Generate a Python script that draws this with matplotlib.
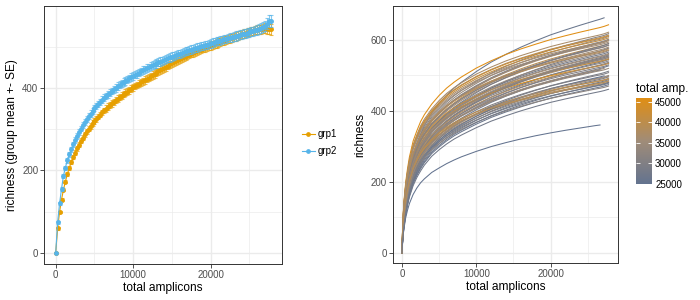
import matplotlib
matplotlib.use("Agg")
import matplotlib.pyplot as plt
from matplotlib.colors import LinearSegmentedColormap, Normalize
from matplotlib.colorbar import ColorbarBase
from matplotlib.lines import Line2D

plt.rcParams['font.family'] = ['Liberation Sans', 'DejaVu Sans']

# -----------------------------
# LEFT PANEL DATA: group means (every 250 amplicons)
# -----------------------------
depth = list(range(0, 28000, 250))

grp1_mean = [0, 59, 99, 129, 153, 173, 191, 206, 220, 232,
             243, 254, 263, 272, 280, 288, 295, 302, 308, 315,
             321, 326, 331, 336, 341, 346, 350, 355, 359, 363,
             367, 371, 375, 379, 382, 386, 389, 392, 395, 399,
             402, 405, 408, 411, 414, 417, 420, 423, 426, 429,
             432, 435, 438, 441, 444, 447, 449, 452, 455, 458,
             461, 464, 466, 469, 471, 474, 476, 478, 480, 482,
             484, 486, 488, 490, 492, 494, 496, 498, 500, 502,
             504, 506, 507, 509, 511, 513, 514, 516, 518, 520,
             521, 523, 524, 526, 528, 530, 531, 533, 534, 536,
             537, 539, 540, 541, 542, 543, 544, 545, 546, 545,
             544, 543]
grp1_se = ([0] + [3] * 2 + [4] * 3 + [5] * 4 + [6] * 6 + [7] * 10 + [8] * 20
           + [9] * 34 + [10] * 24 + [11] * 4 + [12] * 2 + [13] * 2)

grp2_mean = [0, 74, 120, 155, 187, 207, 225, 239, 252, 264,
             274, 284, 293, 302, 310, 318, 325, 332, 338, 345,
             352, 357, 362, 367, 372, 377, 381, 385, 389, 393,
             397, 401, 405, 409, 412, 415, 418, 421, 424, 427,
             430, 433, 435, 438, 441, 444, 446, 449, 451, 454,
             456, 458, 460, 463, 465, 467, 469, 471, 473, 475,
             477, 479, 481, 483, 484, 486, 488, 490, 491, 493,
             494, 496, 497, 499, 500, 502, 503, 505, 506, 508,
             509, 511, 512, 514, 515, 516, 517, 519, 520, 522,
             523, 524, 525, 527, 528, 530, 531, 532, 533, 535,
             536, 538, 539, 541, 542, 544, 546, 549, 551, 557,
             563, 564]
grp2_se = ([0] + [3] * 2 + [5] * 3 + [6] * 4 + [7] * 6 + [8] * 14 + [9] * 20
           + [10] * 40 + [11] * 14 + [12] * 4 + [13] * 2 + [15] * 2)

grp_names = ['grp1', 'grp2']
grp_colors = ['#E69F00', '#56B4E9']

# -----------------------------
# RIGHT PANEL DATA: per-sample curves
# -----------------------------
rare_depth = [0, 100, 250, 500, 750, 1000, 1500, 2000, 2500, 3000, 4000, 5000, 6000,
              7000, 8000, 10000, 12000, 14000, 16000, 18000, 20000, 22000, 24000,
              26000, 26650, 27200, 27800]
# fraction of final richness reached at each depth (three curve shapes seen)
profile_steep = [0, .13, .22, .31, .37, .42, .49, .535, .575, .605, .652, .69, .722,
                 .748, .771, .81, .842, .87, .894, .915, .935, .952, .968, .983,
                 .988, .993, 1.0]
profile_mid = [0, .10, .18, .27, .33, .38, .45, .50, .54, .57, .62, .655, .688,
               .716, .741, .783, .82, .851, .879, .904, .926, .946, .964, .982,
               .987, .992, 1.0]
profile_flat = [0, .08, .15, .23, .29, .34, .41, .46, .50, .535, .59, .63, .665,
                .695, .72, .765, .805, .838, .868, .895, .92, .941, .961, .98,
                .986, .992, 1.0]
profiles = [profile_steep, profile_mid, profile_flat]

sample_rich = [668, 643, 622, 618, 614, 610, 606, 602, 598, 594,
               590, 585, 580, 577, 566, 562, 558, 555, 551, 548,
               545, 541, 537, 534, 530, 527, 522, 500, 496, 492,
               488, 485, 481, 478, 474, 461, 365, 612, 570, 524,
               508, 590, 546, 503, 470, 575, 600, 555, 520, 490,
               600, 586, 572, 560, 552, 535, 512, 498, 484, 480]
sample_amp = [26000, 45900, 37000, 31000, 38500, 34000, 41000, 29500, 36500, 35000,
              39500, 32500, 36000, 28500, 28000, 32000, 27000, 34500, 29500, 36000,
              26500, 31500, 28500, 44500, 30500, 27500, 26000, 33500, 28000, 36500,
              27000, 31000, 38000, 29000, 26500, 27500, 24900, 42000, 33000, 35000,
              30000, 28500, 41000, 25500, 32000, 37500, 33500, 30000, 34000, 40000,
              36000, 30500, 38000, 35500, 33000, 37500, 29000, 34500, 39000, 27000]
sample_maxdepth = [27200, 27800, 27800, 27800, 27800, 27800, 27800, 27800, 27800, 27800,
                   27800, 27800, 27800, 27800, 27800, 27800, 27800, 27800, 27800, 27800,
                   27800, 27800, 27800, 27800, 27800, 27800, 26650, 27800, 27800, 27800,
                   27800, 27800, 27800, 27800, 27800, 27800, 26650, 27800, 27800, 27200,
                   27800, 27800, 27800, 27200, 27800, 27800, 27800, 27800, 27800, 27800,
                   27800, 27800, 27800, 27800, 27800, 27800, 27800, 27800, 27800, 27800]
sample_shape = [2, 0, 0, 1, 0, 1, 0, 1, 1, 0,
                1, 1, 1, 2, 1, 1, 2, 1, 1, 1,
                2, 1, 2, 0, 1, 2, 1, 1, 2, 1,
                2, 1, 0, 1, 2, 2, 1, 0, 1, 1,
                1, 2, 0, 2, 1, 0, 1, 2, 1, 0,
                0, 1, 0, 1, 1, 1, 2, 1, 0, 2]

cbar_ticks = [25000, 30000, 35000, 40000, 45000]

# -----------------------------
# HELPERS
# -----------------------------
def theme_bw(ax, ymajor, yminor):
    ax.set_xticks([0, 10000, 20000])
    ax.set_xticks([5000, 15000, 25000], minor=True)
    ax.set_yticks(ymajor)
    ax.set_yticks(yminor, minor=True)
    ax.grid(which='major', color='#EBEBEB', lw=1.0)
    ax.grid(which='minor', color='#EBEBEB', lw=0.5)
    ax.set_axisbelow(True)
    ax.tick_params(which='minor', length=0)
    ax.tick_params(which='major', length=2.6, width=0.6, color='#333333',
                   labelsize=7.0, labelcolor='#4D4D4D', pad=1.5)
    for s in ax.spines.values():
        s.set_color('#333333')
        s.set_linewidth(0.7)
    ax.set_xlabel('total amplicons', fontsize=8.6, labelpad=1.5)


fig = plt.figure(figsize=(7, 3), dpi=100)

# -----------------------------
# LEFT PANEL
# -----------------------------
ax1 = fig.add_axes([44 / 700, 36 / 300, 238 / 700, 258 / 300])
for mean, se, col in [(grp1_mean, grp1_se, grp_colors[0]),
                      (grp2_mean, grp2_se, grp_colors[1])]:
    ax1.errorbar(depth, mean, yerr=se, fmt='none', ecolor=col, elinewidth=0.8,
                 capsize=1.6, capthick=0.8, alpha=0.7)
    ax1.plot(depth, mean, '-o', color=col, lw=0.8, ms=2.5)
ax1.set_xlim(-1510, 29200)
ax1.set_ylim(-27.5, 600)
theme_bw(ax1, [0, 200, 400], [100, 300, 500])
ax1.set_ylabel('richness (group mean +- SE)', fontsize=8.6, labelpad=3)

# legend for groups
for i, (name, col) in enumerate(zip(grp_names, grp_colors)):
    yy = 1 - (134 + 17 * i) / 300
    fig.add_artist(Line2D([301.5 / 700, 315 / 700], [yy, yy], color=col, lw=0.8,
                          transform=fig.transFigure))
    fig.add_artist(Line2D([308.3 / 700], [yy], color=col, marker='o', ms=2.4,
                          transform=fig.transFigure))
    fig.text(318 / 700, yy, name, fontsize=7.0, va='center', ha='left')

# -----------------------------
# RIGHT PANEL
# -----------------------------
cmap = LinearSegmentedColormap.from_list('amp', ['#63738F', '#A08C78', '#E08E14'])
norm = Normalize(vmin=min(sample_amp), vmax=max(sample_amp))

ax2 = fig.add_axes([392.7 / 700, 36.7 / 300, 225.6 / 700, 257.3 / 300])
for rich, amp, mx, shp in zip(sample_rich, sample_amp, sample_maxdepth, sample_shape):
    xs = [d for d in rare_depth if d <= mx]
    ys = [rich * f for d, f in zip(rare_depth, profiles[shp]) if d <= mx]
    ax2.plot(xs, ys, color=cmap(norm(amp)), lw=0.75)
ax2.set_xlim(-1250, 29110)
ax2.set_ylim(-30, 696)
theme_bw(ax2, [0, 200, 400, 600], [100, 300, 500])
ax2.set_ylabel('richness', fontsize=8.6, labelpad=3)

# colour bar
cax = fig.add_axes([635.7 / 700, 116 / 300, 16.6 / 700, 86 / 300])
cb = ColorbarBase(cax, cmap=cmap, norm=norm, orientation='vertical')
cb.outline.set_visible(False)
cb.set_ticks(cbar_ticks)
cax.tick_params(axis='y', left=True, right=True, direction='in', color='white',
                length=3, width=0.6, labelsize=7.0, pad=2)
fig.text(636 / 700, 1 - 89 / 300, 'total amp.', fontsize=8.6, va='center', ha='left')

fig.savefig('out.png', dpi=100)
plt.close(fig)
